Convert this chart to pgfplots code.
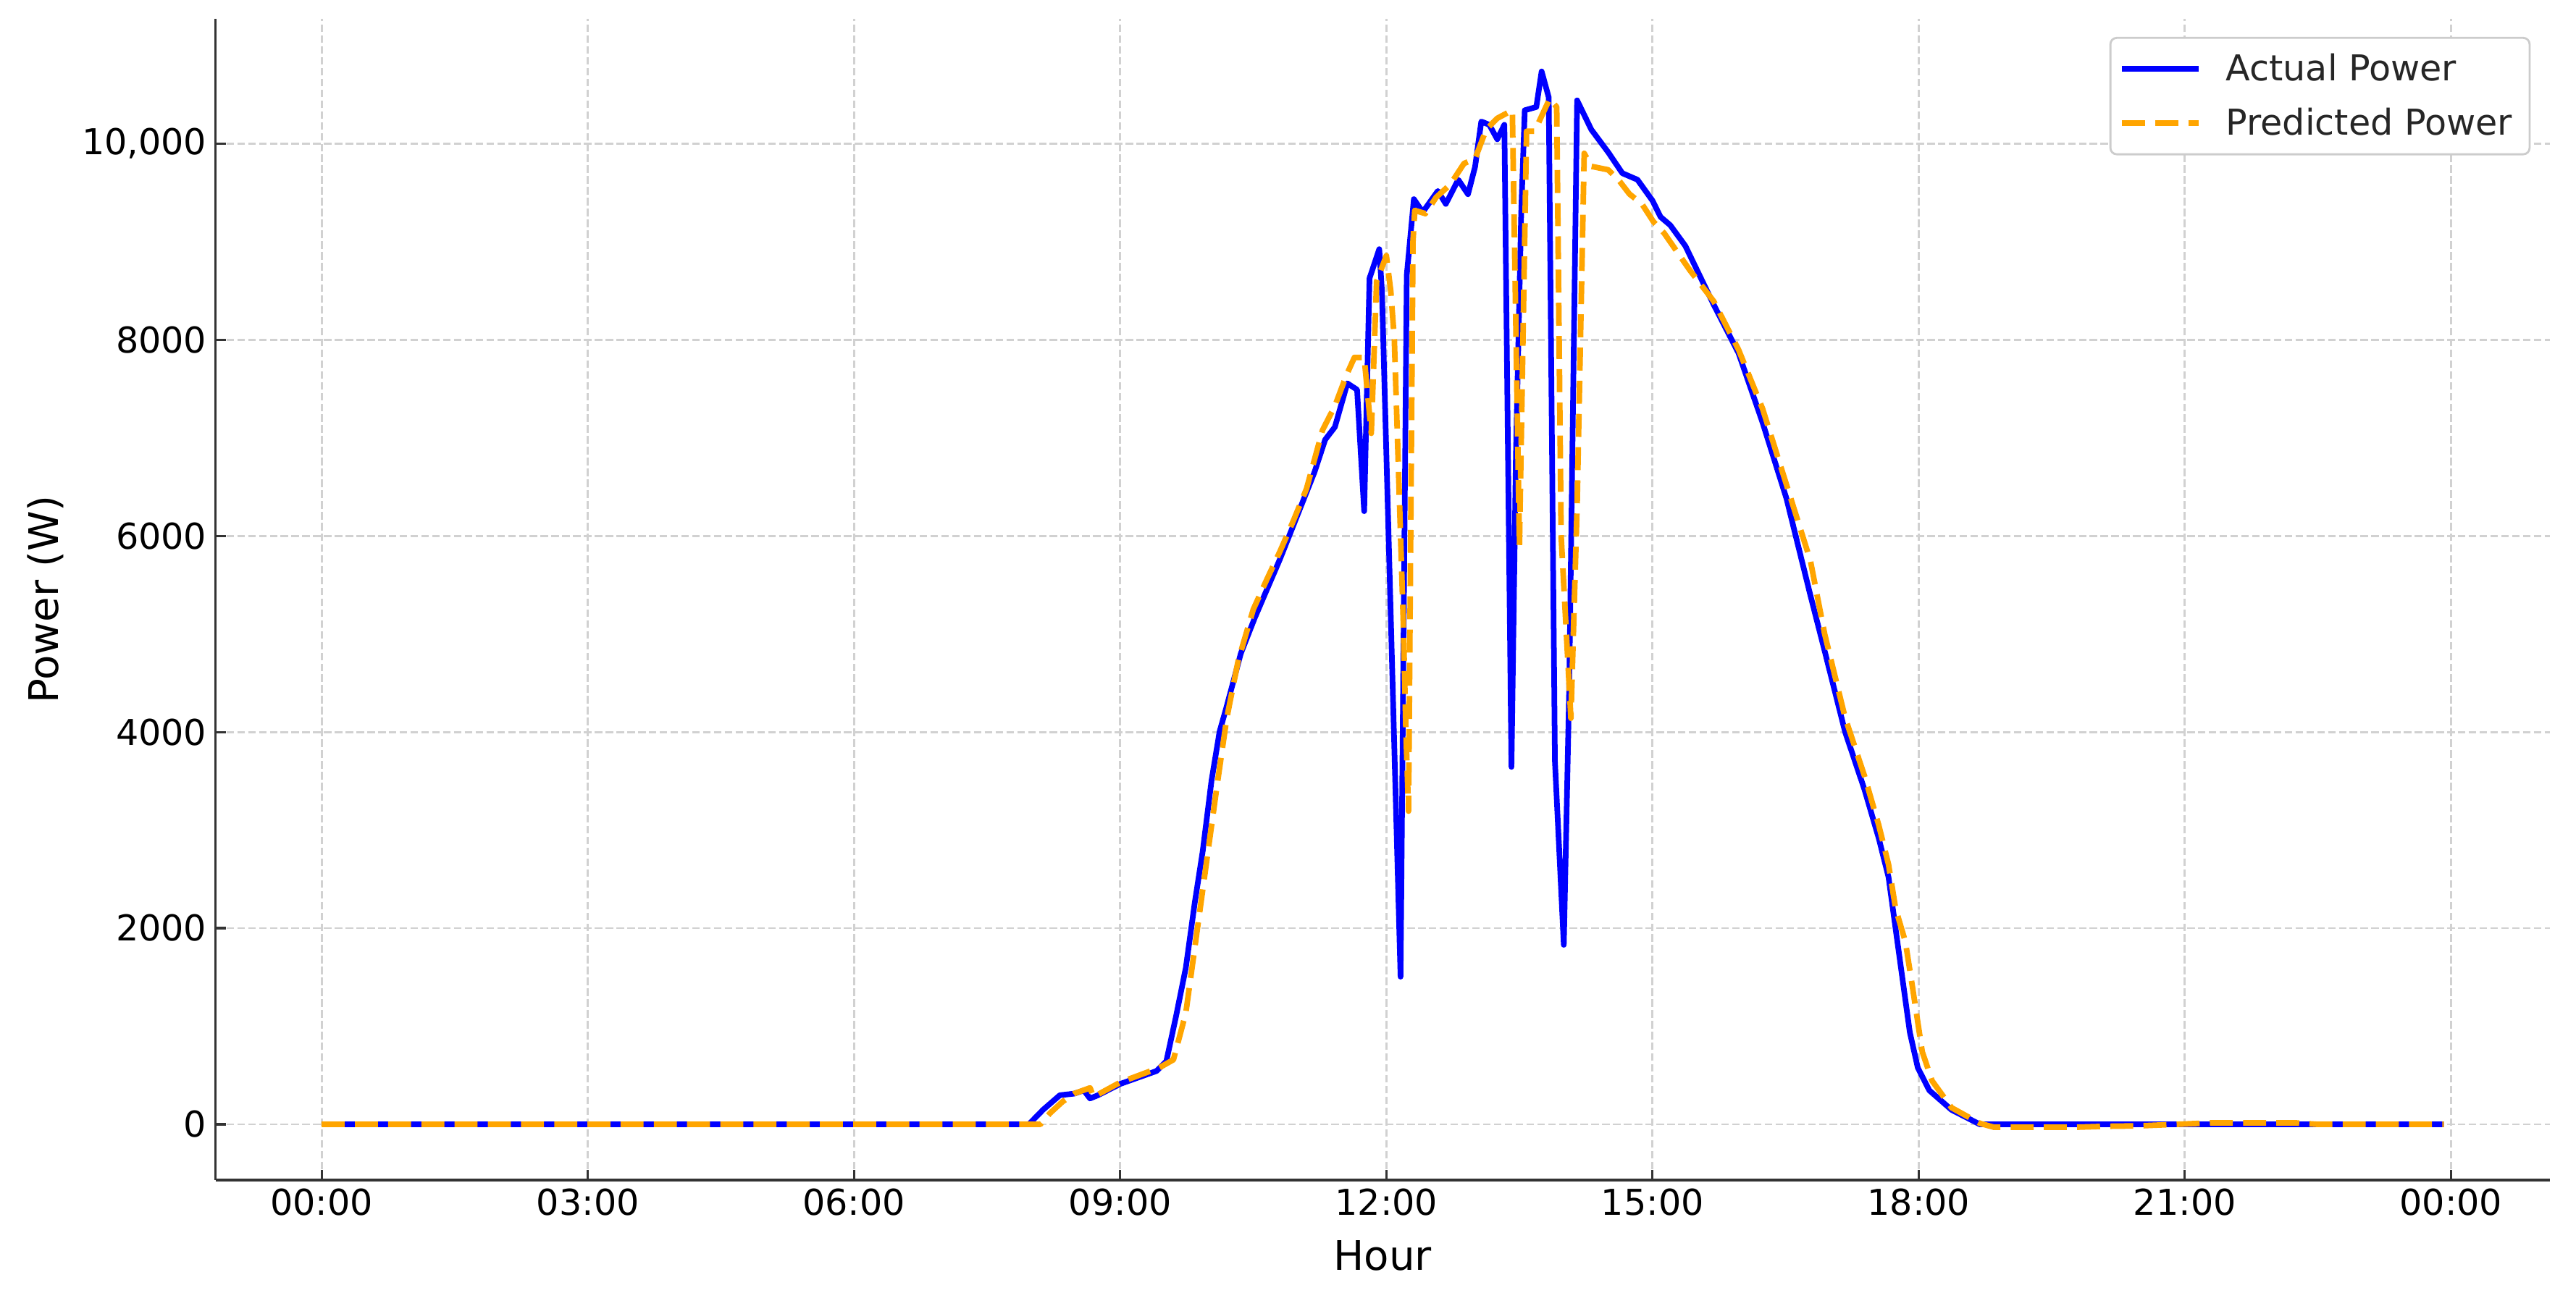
\documentclass[border=0pt]{standalone}
\usepackage{fontspec}
\setmainfont{DejaVu Sans}
\usepackage{pgfplots}
\pgfplotsset{compat=1.18}
\usepackage{pgfplotstable}
\definecolor{mplblue}{RGB}{0,0,255}
\definecolor{mplorange}{HTML}{FFA500}

\pgfplotstableread{
t P
0 0
7.97 0
8.13 148
8.32 297
8.48 313
8.59 346
8.66 264
8.75 297
9.00 412
9.41 544
9.52 643
9.63 1104
9.74 1598
9.84 2257
9.93 2784
10.03 3509
10.12 4003
10.20 4260
10.36 4802
10.52 5171
10.66 5466
10.80 5761
10.93 6057
11.07 6376
11.19 6650
11.31 6980
11.42 7110
11.56 7555
11.67 7490
11.75 6251
11.81 8626
11.92 8923
11.95 8500
12.16 1505
12.23 8659
12.31 9433
12.41 9300
12.58 9516
12.67 9384
12.81 9631
12.92 9483
13.00 9763
13.07 10224
13.16 10191
13.25 10043
13.33 10191
13.41 3644
13.46 6800
13.52 9300
13.56 10339
13.69 10372
13.75 10735
13.83 10471
13.90 3700
14.00 1830
14.06 4400
14.15 10440
14.31 10142
14.50 9911
14.66 9697
14.83 9631
15.00 9417
15.09 9252
15.20 9167
15.37 8956
15.69 8356
15.97 7862
16.24 7156
16.51 6380
16.78 5392
16.94 4827
17.17 4003
17.39 3410
17.55 2916
17.66 2521
17.74 1993
17.82 1466
17.90 939
17.99 577
18.12 346
18.37 148
18.69 0
23.92 0
}\actual

\pgfplotstableread{
t P
0 0
8.10 0
8.21 115
8.35 231
8.48 313
8.66 372
8.70 280
9.00 428
9.44 577
9.60 659
9.74 1137
9.84 1796
9.95 2521
10.09 3443
10.20 4135
10.33 4728
10.50 5250
10.65 5550
10.80 5840
10.95 6150
11.10 6480
11.28 7077
11.42 7325
11.55 7638
11.64 7819
11.75 7819
11.83 7045
11.89 8593
12.00 8857
12.05 8494
12.09 8000
12.16 6000
12.19 5145
12.22 4019
12.25 3193
12.30 9000
12.32 9318
12.44 9285
12.56 9450
12.72 9582
12.875 9796
13.00 9845
13.125 10142
13.25 10257
13.42 10339
13.50 5900
13.58 10125
13.67 10125
13.73 10240
13.84 10455
13.92 10372
13.97 6000
14.08 4140
14.15 6300
14.23 9900
14.31 9767
14.50 9732
14.63 9614
14.74 9485
14.88 9384
15.01 9203
15.13 9087
15.42 8709
15.69 8391
15.97 7897
16.24 7297
16.51 6521
16.78 5745
16.94 5000
17.17 4150
17.39 3550
17.55 3050
17.66 2650
17.74 2200
17.85 1862
17.93 1400
18.04 741
18.15 445
18.37 170
18.69 10
18.85 -30
19.75 -30
20.10 -20
20.50 -15
20.90 0
21.30 15
22.25 15
22.50 0
23.92 0
}\pred

\begin{document}
\begin{tikzpicture}
\path[use as bounding box] (-84.39bp,-43.94bp) rectangle (923.88bp,462.04bp);
\begin{axis}[
  at={(0,0)}, anchor=south west,
  scale only axis, width=913.6bp, height=454.7bp,
  xmin=-1.196, xmax=25.113, ymin=-568, ymax=11272,
  axis x line*=bottom, axis y line*=left,
  axis line style={black!80, line width=0.9bp},
  xtick={0,3,6,9,12,15,18,21,24},
  xticklabels={00:00,03:00,06:00,09:00,12:00,15:00,18:00,21:00,00:00},
  ytick={0,2000,4000,6000,8000,10000},
  yticklabels={0,2000,4000,6000,8000,{10,000}},
  tick align=inside, major tick length=4bp,
  tick style={black!80, line width=0.9bp},
  minor tick num=0,
  grid=major,
  major grid style={black!18, line width=0.8bp, dash pattern=on 2.96bp off 1.28bp},
  ticklabel style={font=\fontsize{14}{16}\selectfont, text=black},
  xlabel={Hour}, ylabel={Power (W)},
  label style={font=\fontsize{16}{19}\selectfont},
  x label style={at={(axis description cs:0.5,-0.0779)}, anchor=base},
  y label style={at={(axis description cs:-0.0729,0.5)}, anchor=center},
  no marks,
  legend style={at={(axis description cs:0.9918,0.9844)}, anchor=north east,
    draw=black!20, line width=0.8bp, rounded corners=2.5bp, fill=white,
    inner xsep=0bp, inner ysep=1.5bp, row sep=0bp,
    font=\fontsize{14}{16}\selectfont, text=black!85,
    nodes={inner xsep=0bp, inner ysep=4.6bp}, cells={anchor=west}},
  legend image code/.code={\draw[#1] (0bp,0bp) -- (30bp,0bp); \path[draw=none,fill=none] (-4.5bp,0bp) -- (40.7bp,0bp);},
]
\addplot[mplblue, line width=2.2bp, line join=round] table[x=t,y=P]{\actual};
\addlegendentry{Actual Power\hspace*{6.8bp}}
\addplot[mplorange, line width=2.2bp, line join=round, dash pattern=on 9bp off 4bp] table[x=t,y=P]{\pred};
\addlegendentry{Predicted Power\hspace*{6.8bp}}
\end{axis}
\end{tikzpicture}
\end{document}
